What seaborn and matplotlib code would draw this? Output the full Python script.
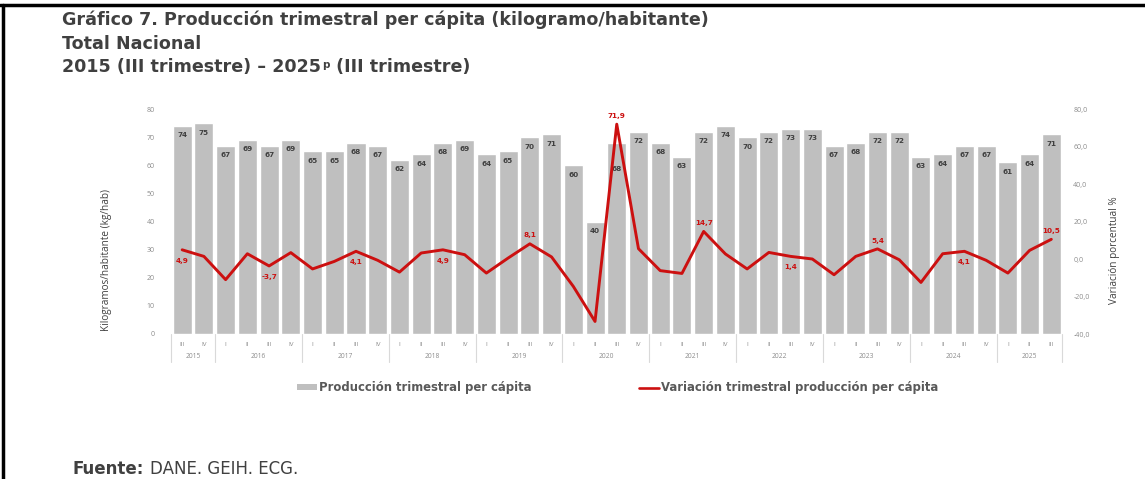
import numpy as np
import pandas as pd
import seaborn as sns
import matplotlib.pyplot as plt
import matplotlib.transforms as mtransforms
from matplotlib.lines import Line2D
from matplotlib.patches import Patch

# ---- data ----
years = ["2015", "2016", "2017", "2018", "2019", "2020", "2021", "2022", "2023", "2024", "2025"]
quarters_per_year = [2, 4, 4, 4, 4, 4, 4, 4, 4, 4, 3]
quarters = (["III", "IV"] + ["I", "II", "III", "IV"] * 9 + ["I", "II", "III"])

produccion = [74, 75,
              67, 69, 67, 69,
              65, 65, 68, 67,
              62, 64, 68, 69,
              64, 65, 70, 71,
              60, 40, 68, 72,
              68, 63, 72, 74,
              70, 72, 73, 73,
              67, 68, 72, 72,
              63, 64, 67, 67,
              61, 64, 71]

variacion = [4.9, 1.4,
             -11.0, 2.8, -3.7, 3.4,
             -5.3, -1.3, 4.1, -0.7,
             -7.0, 3.2, 4.9, 2.3,
             -7.5, 0.5, 8.1, 1.1,
             -14.6, -33.3, 71.9, 5.5,
             -6.2, -7.7, 14.7, 2.7,
             -5.3, 3.5, 1.4, 0.0,
             -8.4, 1.4, 5.4, -0.4,
             -12.5, 2.8, 4.1, -0.7,
             -7.5, 4.6, 10.5]

# labels on the line only for the III quarters, above or below the point
var_label_side = ["below", "below", "below", "below", "above", "above",
                  "above", "below", "above", "below", "above"]

df = pd.DataFrame({"pos": range(len(produccion)), "trimestre": quarters,
                   "produccion": produccion, "variacion": variacion})

bar_color = "#BFBFBF"
red = "#CC1010"
dark = "#404040"
tick_gray = "#8C8C8C"
narrow = "Open Sans"

sns.set_style("white")
plt.rcParams["font.family"] = ["DejaVu Sans"]

fig = plt.figure(figsize=(11.45, 4.79), dpi=100)
ax = fig.add_axes([171.3 / 1145, 1 - 334 / 479, (1062.2 - 171.3) / 1145, 225 / 479])

sns.barplot(data=df, x="pos", y="produccion", color=bar_color, saturation=1,
            width=0.875, ax=ax)
bl = ax.bar_label(ax.containers[0], labels=[str(v) for v in produccion], padding=-9,
                  fontsize=5.2, fontweight="bold", color=dark)
# the 2020-III label sits lower, under the peak of the line
bl[20].xyann = (0, -21)

ax2 = ax.twinx()
sns.lineplot(data=df, x="pos", y="variacion", color=red, linewidth=2.1, ax=ax2)

n = len(produccion)
ax.set_xlim(-0.5, n - 0.5)
ax.set_ylim(0, 80)
ax.set_yticks(np.arange(0, 81, 10))
ax2.set_ylim(-40, 80)
ax2.set_yticks(np.arange(-40, 81, 20))
ax2.set_yticklabels([f"{v:.1f}".replace(".", ",") for v in np.arange(-40, 81, 20)])
ax.set_xticks([])
ax.set_xlabel("")
ax.set_ylabel("")
ax2.set_xlabel("")
ax2.set_ylabel("")
for a in (ax, ax2):
    for s in a.spines.values():
        s.set_visible(False)
    a.tick_params(axis="y", length=0, labelsize=5, labelcolor=tick_gray)
    for lab in a.get_yticklabels():
        lab.set_family(narrow)
ax.tick_params(axis="y", pad=12)
ax2.tick_params(axis="y", pad=8)

# labels on the red line (III quarters)
iii = [i for i, q in enumerate(quarters) if q == "III"]
for i, side in zip(iii, var_label_side):
    dy = -8 if side == "below" else 6
    ax2.annotate(f"{variacion[i]:.1f}".replace(".", ","), (i, variacion[i]),
                 xytext=(0, dy), textcoords="offset points", ha="center",
                 va="center", fontsize=5.2, fontweight="bold", color=red)

# two-level category axis
trans = mtransforms.blended_transform_factory(ax.transData, ax.transAxes)
for i, q in enumerate(quarters):
    ax.text(i, -0.046, q, transform=trans, ha="center", va="center",
            fontsize=4.5, color=tick_gray, family=narrow)
start = 0
bounds = [-0.5]
for y, c in zip(years, quarters_per_year):
    ax.text(start + (c - 1) / 2, -0.102, y, transform=trans, ha="center",
            va="center", fontsize=4.8, color=tick_gray, family=narrow)
    start += c
    bounds.append(start - 0.5)
for b in bounds:
    ax.plot([b, b], [0, -0.125], transform=trans, color="#D9D9D9", lw=0.8,
            clip_on=False)

fig.text(107 / 1145, 1 - 260 / 479, "Kilogramos/habitante (kg/hab)", rotation=90,
         ha="center", va="center", fontsize=7.2, color=dark, family=narrow)
fig.text(1115 / 1145, 1 - 250 / 479, "Variación porcentual %", rotation=90,
         ha="center", va="center", fontsize=7.2, color=dark, family=narrow)

# legend
handles = [Patch(facecolor=bar_color, edgecolor="none"),
           Line2D([0], [0], color=red, lw=1.9)]
fig.legend(handles, ["Producción trimestral per cápita",
                     "Variación trimestral producción per cápita"],
           loc="center", bbox_to_anchor=(618 / 1145, 1 - 388 / 479), ncol=2,
           frameon=False, columnspacing=9.2, handlelength=1.7, handleheight=0.45,
           handletextpad=0.2, prop={"size": 8.4, "weight": "bold"},
           labelcolor="#595959")

# titles
tsize = 12.6
fig.text(62 / 1145, 1 - 20 / 479, "Gráfico 7. Producción trimestral per cápita (kilogramo/habitante)",
         fontsize=tsize, fontweight="bold", color=dark, va="center")
fig.text(62 / 1145, 1 - 44 / 479, "Total Nacional",
         fontsize=tsize, fontweight="bold", color=dark, va="center")
fig.canvas.draw()
r = fig.canvas.get_renderer()
t1 = fig.text(62 / 1145, 1 - 67 / 479, "2015 (III trimestre) – 2025",
              fontsize=tsize, fontweight="bold", color=dark, va="center")
x1 = t1.get_window_extent(r).x1 / 1145
t2 = fig.text(x1 + 1 / 1145, 1 - 65 / 479, "p", fontsize=7.5, fontweight="bold",
              color=dark, va="center")
x2 = t2.get_window_extent(r).x1 / 1145
fig.text(x2, 1 - 67 / 479, " (III trimestre)",
         fontsize=tsize, fontweight="bold", color=dark, va="center")

# source
fig.text(73 / 1145, 1 - 469 / 479, "Fuente:", fontsize=12, fontweight="bold",
         color=dark, va="center")
fig.text(150 / 1145, 1 - 469 / 479, "DANE. GEIH. ECG.", fontsize=12,
         color=dark, va="center")

# frame lines of the original page
fig.add_artist(Line2D([0, 1], [1 - 5 / 479] * 2, transform=fig.transFigure,
                      color="black", lw=2.5))
fig.add_artist(Line2D([3 / 1145] * 2, [0, 1 - 5 / 479], transform=fig.transFigure,
                      color="black", lw=2.5))

fig.savefig("out.png", dpi=100)
